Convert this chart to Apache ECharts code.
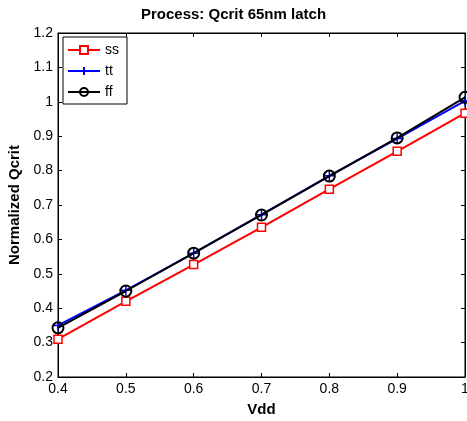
<!DOCTYPE html>
<html><head><meta charset="utf-8">
<script src="https://cdn.jsdelivr.net/npm/echarts@6/dist/echarts.min.js"></script>
<style>html,body{margin:0;padding:0;background:#fff}#c{width:467px;height:421px}</style>
</head><body><div id="c"></div>
<script>
const vdd = [0.4, 0.5, 0.6, 0.7, 0.8, 0.9, 1.0];
const ss = [0.31, 0.42, 0.527, 0.635, 0.746, 0.856, 0.967];
const tt = [0.35, 0.452, 0.56, 0.672, 0.785, 0.893, 1.003];
const ff = [0.343, 0.45, 0.56, 0.671, 0.784, 0.895, 1.013];
const font = 'Liberation Sans, Arial, sans-serif';
const chart = echarts.init(document.getElementById('c'));
const pairs = a => vdd.map((x, i) => [x, a[i]]);
const lbl = {fontFamily: font, fontSize: 14, color: '#000', margin: 5, formatter: v => +v.toFixed(1) + ''};
const tick = {inside: true, length: 4, lineStyle: {color: '#000'}};
chart.setOption({
  animation: false,
  title: {text: 'Process: Qcrit 65nm latch', left: 'center', top: 2,
    textStyle: {fontFamily: font, fontWeight: 'bold', fontSize: 15, color: '#000'}},
  grid: {left: 58, right: 2, top: 33, bottom: 44, show: true, borderColor: '#000', borderWidth: 1,
    outerBoundsMode: 'none', containLabel: false},
  legend: {left: 63, top: 37, orient: 'vertical', itemWidth: 32, itemHeight: 10, itemGap: 7,
    borderColor: '#000', borderWidth: 1, padding: [6, 8, 5, 4], backgroundColor: '#fff',
    textStyle: {fontFamily: font, fontSize: 14, color: '#000'},
    data: ['ss', 'tt', 'ff']},
  xAxis: [{type: 'value', min: 0.4, max: 1, interval: 0.1, name: 'Vdd', nameLocation: 'middle', nameGap: 25,
    nameTextStyle: {fontFamily: font, fontWeight: 'bold', fontSize: 15, color: '#000'},
    axisLine: {lineStyle: {color: '#000'}}, axisTick: tick, axisLabel: lbl, splitLine: {show: false}},
    {type: 'value', position: 'top', min: 0.4, max: 1, interval: 0.1,
    axisLine: {lineStyle: {color: '#000'}}, axisTick: tick, axisLabel: {show: false}, splitLine: {show: false}}],
  yAxis: [{type: 'value', min: 0.2, max: 1.2, interval: 0.1, name: 'Normalized Qcrit', nameLocation: 'middle', nameGap: 35,
    nameTextStyle: {fontFamily: font, fontWeight: 'bold', fontSize: 15, color: '#000'},
    axisLine: {lineStyle: {color: '#000'}}, axisTick: tick, axisLabel: lbl, splitLine: {show: false}},
    {type: 'value', position: 'right', min: 0.2, max: 1.2, interval: 0.1,
    axisLine: {lineStyle: {color: '#000'}}, axisTick: tick, axisLabel: {show: false}, splitLine: {show: false}}],
  series: [
    {name: 'ss', type: 'line', data: pairs(ss), symbol: 'rect', symbolSize: 8, color: '#ff0000',
      lineStyle: {width: 2, color: '#ff0000'}, itemStyle: {color: '#fff', borderColor: '#ff0000', borderWidth: 1.5}, z: 2},
    {name: 'tt', type: 'line', data: pairs(tt), symbol: 'path://M5,0L5,10M0,5L10,5', symbolSize: 10, color: '#0000ff',
      lineStyle: {width: 2, color: '#0000ff'}, itemStyle: {color: '#0000ff', borderColor: '#0000ff', borderWidth: 1.5}, z: 3},
    {name: 'ff', type: 'line', data: pairs(ff), symbol: 'circle', symbolSize: 11, color: '#000',
      lineStyle: {width: 2, color: '#000'}, itemStyle: {color: 'rgba(255,255,255,0)', borderColor: '#000', borderWidth: 2}, z: 4}
  ]
});
</script></body></html>
